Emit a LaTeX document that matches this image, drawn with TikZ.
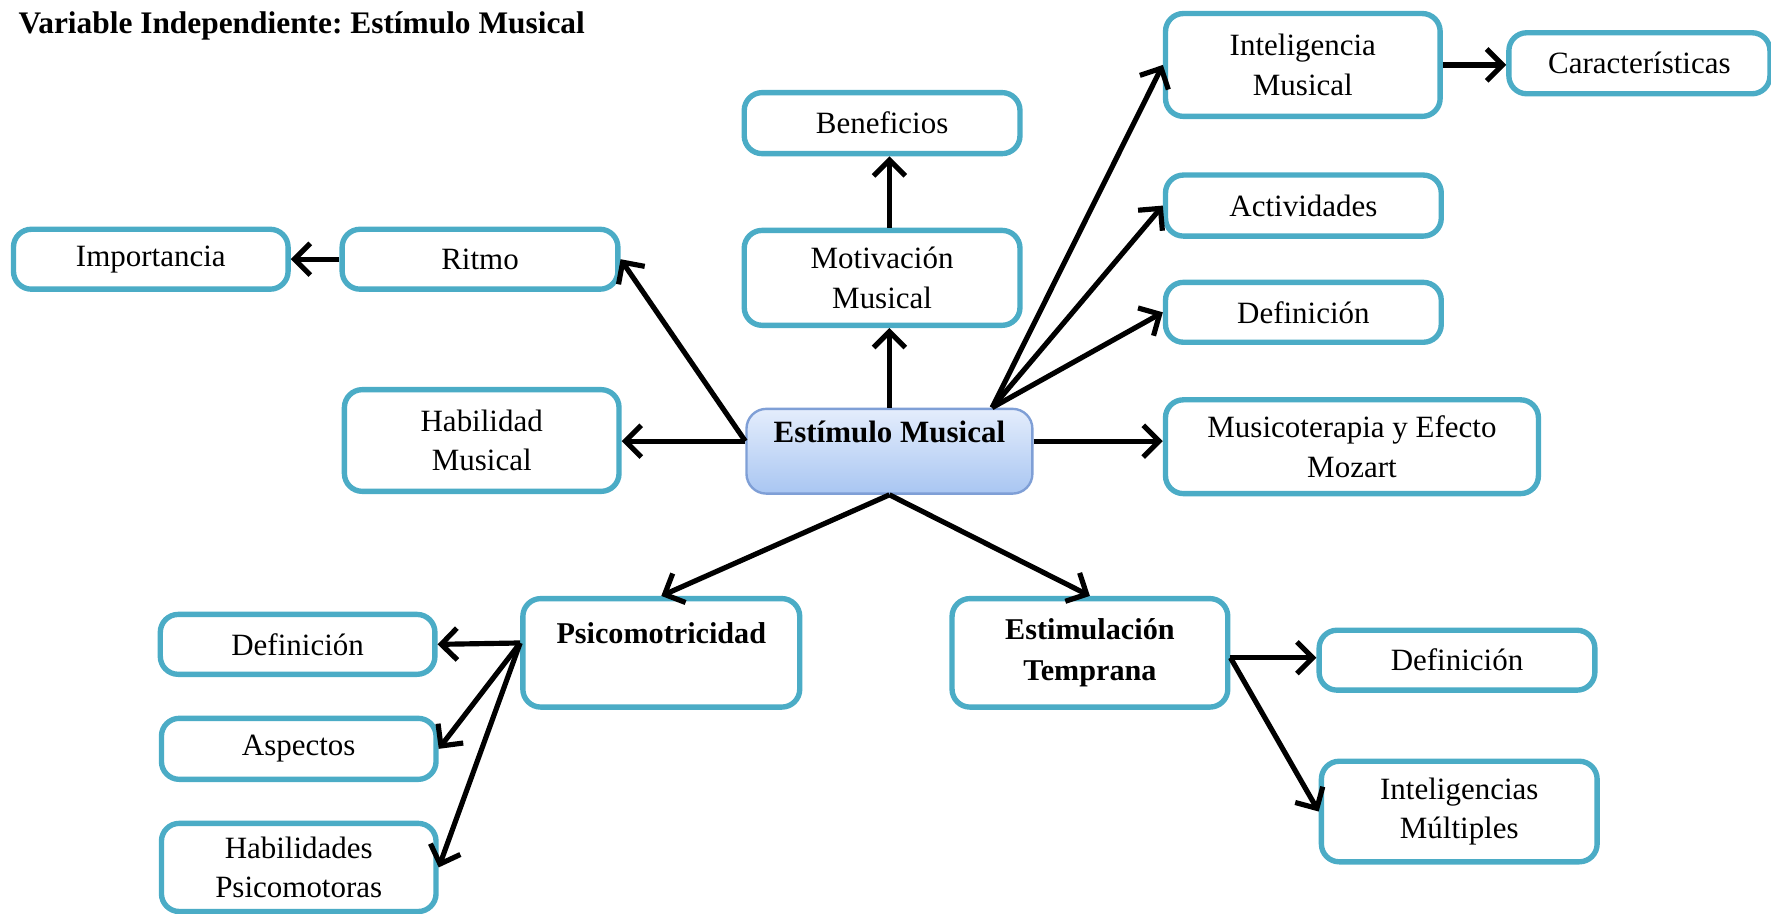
\documentclass[tikz,border=0pt]{standalone}
\usepackage{fontspec}
\setmainfont{Liberation Serif}
\frenchspacing
\usetikzlibrary{shapes,arrows.meta,positioning}
\definecolor{boxline}{HTML}{4BACC6}
\definecolor{hubline}{HTML}{7F9FD6}
\definecolor{hubtop}{HTML}{E4EDFC}
\definecolor{hubbot}{HTML}{A9C6F2}

\begin{document}
\begin{tikzpicture}[x=0.01cm,y=-0.01cm,>={Straight Barb[length=4pt,width=8pt]},
  box/.style={draw=boxline,line width=1.35pt,rounded corners=4.5pt,fill=white,
    align=center,inner sep=0pt,font=\fontsize{7.8}{10}\selectfont},
  hub/.style={draw=hubline,line width=0.6pt,rounded corners=5pt,top color=hubtop,
    bottom color=hubbot,align=center,inner sep=0pt,font=\bfseries\fontsize{7.8}{10}\selectfont},
  link/.style={->,line width=1.3pt}]
  \useasboundingbox (0,0) rectangle (1568,809.2);

  % title
  \node[anchor=base west,font=\bfseries\fontsize{7.9}{9.5}\selectfont] (title) at (4,30)
       {Variable Independiente: Estímulo Musical};

  % central node
  \node[hub,minimum width=2.53cm,minimum height=0.75cm] (est) at (787.5,399.5)
       {Estímulo Musical\\ \mbox{}};

  % left and top branches
  \node[box,minimum width=2.43cm,minimum height=0.53cm] (imp) at (133.5,229.5) {Importancia};
  \node[box,minimum width=2.44cm,minimum height=0.53cm] (ritmo) at (425,229.5) {Ritmo};
  \node[box,minimum width=2.43cm,minimum height=0.90cm] (habm) at (426.5,390) {Habilidad\\Musical};
  \node[box,minimum width=2.44cm,minimum height=0.54cm] (benef) at (781,109) {Beneficios};
  \node[box,minimum width=2.44cm,minimum height=0.84cm] (motiv) at (781,246) {Motivación\\Musical};

  % right branches
  \node[box,minimum width=2.43cm,minimum height=0.91cm] (intm) at (1153.5,57.5) {Inteligencia\\Musical};
  \node[box,minimum width=2.31cm,minimum height=0.54cm] (carac) at (1451.5,56) {Características};
  \node[box,minimum width=2.44cm,minimum height=0.54cm] (activ) at (1154,182) {Actividades};
  \node[box,minimum width=2.44cm,minimum height=0.53cm] (defR) at (1154,276.5) {Definición};
  \node[box,minimum width=3.30cm,minimum height=0.83cm] (mozart) at (1197,395.5) {Musicoterapia y Efecto\\Mozart};

  % bottom branches
  \node[box,font=\bfseries\fontsize{7.6}{10}\selectfont,minimum width=2.45cm,minimum height=0.96cm]
       (psico) at (585.5,578) {Psicomotricidad\\ \mbox{}};
  \node[box,font=\bfseries\fontsize{7.6}{10.5}\selectfont,minimum width=2.44cm,minimum height=0.96cm]
       (estim) at (965,578) {Estimulación\\Temprana};
  \node[box,minimum width=2.44cm,minimum height=0.53cm] (defET) at (1290,584.5) {Definición};
  \node[box,minimum width=2.44cm,minimum height=0.89cm] (intmul) at (1292,718.5) {Inteligencias\\Múltiples};
  \node[box,minimum width=2.43cm,minimum height=0.53cm] (defP) at (263.5,570.5) {Definición};
  \node[box,minimum width=2.43cm,minimum height=0.54cm] (asp) at (264.5,663) {Aspectos};
  \node[box,minimum width=2.43cm,minimum height=0.78cm] (habps) at (264.5,768) {Habilidades\\Psicomotoras};

  % arrows from the centre
  \draw[link] (est.176) -- (ritmo.east);
  \draw[link] (est.176) -- (est.176 -| habm.east);
  \draw[link] (est.north) -- (est.north |- motiv.south);
  \draw[link] (est.north |- motiv.north) -- (est.north |- benef.south);
  \foreach \n in {intm,activ,defR}
     \draw[link] (est.23) -- (\n.west);
  \draw[link] (est.4) -- (est.4 -| mozart.west);
  \foreach \n in {psico,estim}
     \draw[link] (est.south) -- (\n.north);

  % second level
  \foreach \n in {defP,asp,habps}
     \draw[link] (psico.176) -- (\n.east);
  \draw[link] (estim.-2) -- (estim.-2 -| defET.west);
  \draw[link] (estim.-2) -- (intmul.west);
  \draw[link] (intm.east) -- (intm.east -| carac.west);
  \draw[link] (ritmo.west) -- (imp.east);
\end{tikzpicture}
\end{document}
